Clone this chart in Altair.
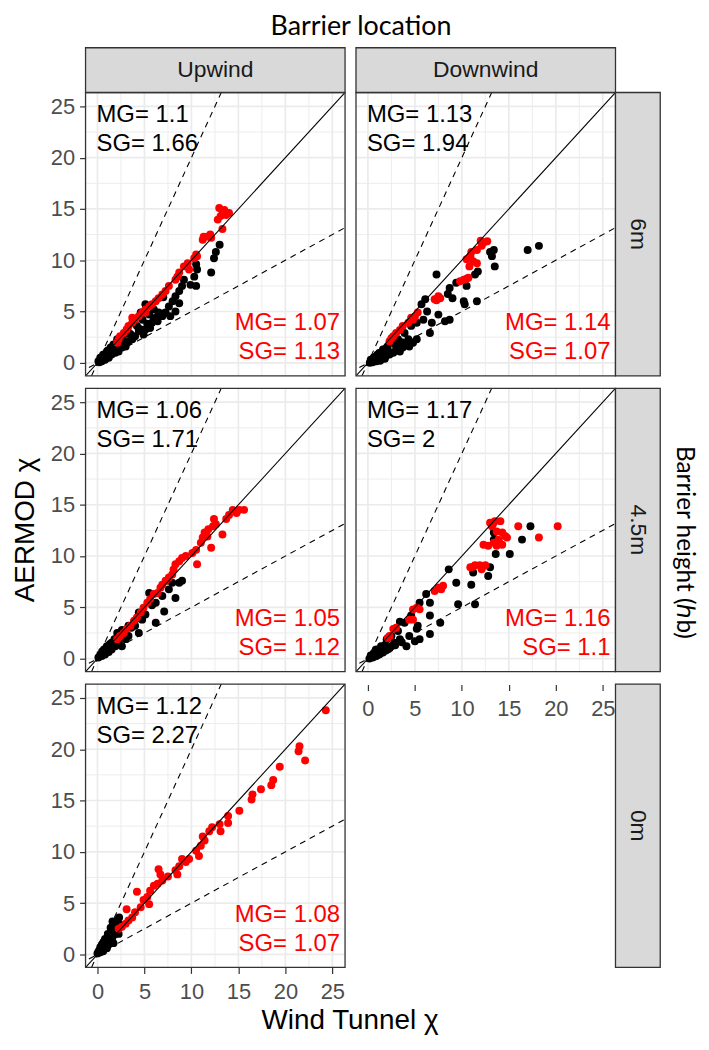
import altair as alt
import pandas as pd

# ------------------------------------------------------------------ data
PANEL_KEYS = ["U6", "D6", "U45", "D45", "U0"]
COL_LABELS = ["Upwind", "Downwind"]
ROW_LABELS = ["6m", "4.5m", "0m"]

U6_BLACK_X = [13.0, 12.6, 12.4, 12.1, 10.5, 10.6, 10.3, 9.9, 10.5, 9.2, 9.0, 8.7, 8.3, 8.7, 8.0, 7.6, 8.3, 7.75, 7.25, 6.9, 6.4, 5.8, 6.5, 6.2, 5.6, 5.1, 4.9, 4.4, 4.0, 3.7, 3.3, 3.0, 2.6, 2.25, 1.9, 1.5, 1.2, 0.8, 0.46, 0.1, 0.3, 0.6, 1.0, 1.4, 1.7, 2.1, 5.1, 4.6, 3.9, 3.2, 2.7, 6.0, 7.0, 4.2, 3.5, 2.4, 0.2, 0.5, 0.9, 1.3, 1.7, 2.0, 2.8, 3.6, 4.5, 5.3, 6.0, 7.0, 4.8, 5.5, 3.0, 2.2, 1.1, 0.7]
U6_BLACK_Y = [11.5, 10.8, 10.2, 8.8, 9.6, 9.1, 8.4, 7.6, 7.5, 8.1, 7.5, 7.0, 6.5, 5.8, 6.0, 5.5, 5.0, 4.55, 4.9, 4.55, 4.06, 3.9, 4.9, 4.4, 3.4, 3.25, 2.76, 3.1, 2.6, 2.3, 2.1, 1.6, 1.5, 1.1, 0.97, 0.8, 0.5, 0.3, 0.16, 0.16, 0.5, 0.8, 1.1, 1.5, 1.8, 2.3, 5.7, 4.9, 3.9, 3.2, 2.6, 5.2, 6.4, 3.6, 2.8, 1.9, 0.05, 0.4, 0.7, 1.0, 1.3, 1.5, 1.9, 2.6, 3.3, 3.8, 4.3, 4.8, 4.2, 4.7, 2.9, 2.0, 1.2, 0.7]
U6_RED_X = [12.96, 13.3, 13.7, 13.1, 12.8, 14.0, 13.3, 11.3, 11.7, 12.1, 11.2, 10.5, 10.3, 10.6, 9.6, 9.75, 8.7, 8.5, 8.3, 7.6, 7.25, 6.9, 6.5, 6.2, 5.8, 5.5, 5.1, 4.75, 4.4, 4.0, 3.7, 3.3, 3.1, 2.8, 2.4, 2.25, 2.1, 3.7, 5.1, 13.5, 12.0, 9.2]
U6_RED_Y = [15.1, 14.8, 14.4, 14.3, 13.96, 14.6, 13.05, 12.3, 12.3, 12.2, 12.0, 10.55, 10.2, 10.4, 9.7, 9.1, 8.8, 8.4, 8.1, 7.5, 7.0, 6.65, 6.3, 6.0, 5.7, 5.5, 5.2, 4.9, 4.55, 4.2, 3.9, 3.6, 3.25, 2.9, 2.6, 2.3, 1.95, 4.4, 4.9, 14.9, 12.5, 9.4]

D6_BLACK_X = [17.0, 18.2, 13.4, 13.2, 13.0, 13.5, 11.4, 11.7, 10.5, 10.2, 10.3, 11.6, 9.4, 8.7, 8.5, 7.3, 6.1, 5.7, 8.7, 8.2, 7.5, 6.8, 6.6, 5.2, 4.8, 4.4, 4.3, 3.7, 3.4, 3.0, 2.7, 2.3, 1.9, 1.6, 1.2, 0.9, 0.5, 0.2, 1.6, 2.1, 1.2, 0.9, 2.7, 3.2, 3.9, 4.6, 5.9, 5.2, 0.3, 0.6, 1.0, 1.4, 9.0, 6.3, 2.0, 2.5, 1.8, 1.3, 0.7, 3.6, 4.0, 2.9]
D6_BLACK_Y = [11.0, 11.4, 11.0, 10.4, 10.8, 9.4, 8.6, 8.9, 7.5, 6.0, 5.7, 6.0, 7.8, 7.3, 6.7, 8.6, 6.2, 5.7, 4.2, 4.06, 4.7, 3.9, 2.9, 2.3, 1.95, 1.6, 2.3, 1.5, 1.1, 1.3, 0.97, 0.8, 0.65, 0.5, 0.3, 0.16, 0.06, 0.0, 1.3, 1.6, 0.97, 0.65, 2.1, 2.3, 2.9, 3.6, 4.2, 3.9, 0.3, 0.5, 0.8, 1.0, 6.3, 5.0, 1.2, 1.0, 0.4, 0.2, 0.4, 2.0, 1.8, 1.8]
D6_RED_X = [12.3, 12.7, 12.1, 11.6, 10.9, 10.5, 11.2, 11.6, 10.7, 10.2, 9.8, 10.5, 7.5, 7.7, 7.1, 5.3, 5.0, 4.6, 4.3, 3.7, 3.4, 3.0, 2.7, 2.3, 2.5, 12.0, 11.0, 10.8, 7.3, 4.8]
D6_RED_Y = [11.7, 11.85, 11.4, 11.0, 10.4, 10.1, 9.9, 9.7, 8.3, 8.1, 7.95, 8.2, 6.5, 6.3, 6.2, 4.9, 4.5, 4.4, 3.9, 3.6, 3.2, 2.9, 2.6, 2.1, 2.4, 11.9, 10.8, 9.4, 6.1, 4.2]

U45_BLACK_X = [9.0, 8.3, 7.1, 6.2, 4.4, 2.6, 6.9, 6.2, 5.5, 5.1, 4.75, 4.0, 3.3, 3.0, 2.25, 1.9, 1.5, 1.2, 0.8, 0.46, 0.1, 1.5, 2.25, 3.3, 4.4, 7.6, 7.96, 8.7, 7.4, 5.8, 4.2, 3.6, 2.8, 0.3, 0.7, 1.0, 1.3, 1.8, 2.1, 0.5, 0.9, 2.6, 3.9]
U45_BLACK_Y = [7.6, 5.9, 4.6, 3.5, 2.5, 1.2, 6.1, 5.45, 6.4, 4.3, 3.8, 3.2, 2.2, 1.9, 1.56, 1.2, 0.9, 0.65, 0.4, 0.26, 0.1, 1.56, 2.2, 3.2, 4.5, 6.75, 7.4, 7.4, 7.6, 5.2, 3.9, 3.0, 2.5, 0.4, 0.9, 1.2, 1.4, 1.9, 2.5, 0.7, 1.0, 2.8, 3.6]
U45_RED_X = [15.1, 15.6, 14.8, 14.4, 13.7, 12.4, 12.6, 12.3, 11.4, 11.7, 11.2, 11.0, 13.3, 12.1, 10.5, 10.1, 9.4, 10.6, 8.7, 8.3, 8.1, 7.96, 7.6, 7.25, 6.9, 6.7, 6.4, 6.0, 5.6, 5.3, 4.9, 4.6, 4.2, 3.9, 3.5, 3.1, 2.8, 2.4, 2.1, 14.0, 11.8, 9.0]
U45_RED_Y = [14.5, 14.5, 14.2, 14.5, 13.6, 13.6, 13.1, 12.9, 12.3, 11.9, 11.8, 11.3, 12.1, 10.8, 10.6, 10.3, 10.0, 9.2, 9.5, 9.2, 8.7, 8.2, 7.9, 7.6, 7.2, 6.9, 6.4, 6.3, 5.8, 5.45, 4.97, 4.5, 4.0, 3.7, 3.2, 2.9, 2.5, 2.2, 1.9, 14.0, 12.6, 9.8]

D45_BLACK_X = [17.3, 16.4, 13.4, 13.4, 13.6, 15.1, 13.0, 12.8, 11.2, 11.0, 9.4, 8.6, 9.6, 11.4, 7.7, 6.6, 6.6, 5.5, 6.2, 5.3, 5.2, 6.6, 5.5, 5.0, 4.4, 4.1, 3.4, 2.8, 2.5, 2.1, 1.6, 1.2, 0.9, 0.5, 0.16, 2.0, 2.5, 3.2, 3.9, 4.6, 1.4, 0.9, 3.4, 0.3, 0.6, 1.1, 1.8, 0.7, 1.3, 2.3, 2.9, 3.6, 1.9]
D45_BLACK_Y = [12.9, 11.6, 12.3, 11.6, 10.2, 10.2, 8.9, 8.05, 8.4, 7.2, 7.4, 8.7, 5.3, 5.3, 3.5, 4.2, 5.45, 5.45, 6.3, 3.2, 2.9, 2.4, 1.9, 1.7, 2.2, 1.2, 1.9, 1.56, 1.2, 0.9, 0.6, 0.4, 0.26, 0.1, 0.0, 1.9, 2.2, 2.7, 3.5, 4.2, 1.2, 0.9, 3.6, 0.3, 0.5, 0.8, 1.3, 0.2, 0.5, 1.0, 1.3, 1.6, 0.8]
D45_RED_X = [13.0, 13.5, 14.1, 13.2, 16.0, 20.2, 18.2, 13.7, 14.3, 14.6, 14.8, 13.9, 13.4, 12.3, 12.8, 13.7, 14.3, 10.9, 11.4, 11.9, 12.5, 12.1, 7.5, 7.8, 7.1, 8.0, 5.2, 5.5, 4.8, 4.4, 4.8, 3.0, 2.7, 2.3, 2.1, 13.3, 14.0, 11.2]
D45_RED_Y = [13.25, 13.4, 13.4, 12.9, 12.9, 12.9, 11.8, 12.4, 12.3, 11.95, 11.8, 11.6, 11.3, 11.1, 11.0, 11.0, 11.1, 8.9, 9.1, 9.1, 9.1, 8.7, 6.9, 6.75, 6.6, 7.1, 4.97, 4.8, 4.8, 3.8, 3.8, 3.0, 2.9, 2.2, 2.0, 13.1, 11.3, 8.95]

U0_BLACK_X = [0.0, 0.1, 0.46, 0.8, 1.2, 1.5, 1.9, 1.9, 1.7, 1.4, 1.0, 0.64, 0.3, 2.1, 0.46, 2.25, 1.6, 1.1, 0.2, 0.9, 1.3, 2.0, 0.5, 0.8, 1.1, 1.4, 1.6, 2.3, 1.0, 0.6, 1.7, 2.4, 0.3]
U0_BLACK_Y = [0.1, 0.26, 0.4, 0.7, 1.06, 1.4, 2.0, 3.0, 2.5, 2.0, 1.5, 1.2, 0.7, 3.3, 0.9, 2.0, 1.7, 0.9, 0.4, 1.3, 1.8, 2.6, 1.0, 1.5, 2.0, 2.6, 3.2, 3.6, 0.6, 0.3, 1.1, 2.9, 0.2]
U0_RED_X = [24.3, 21.5, 21.4, 22.1, 19.4, 18.7, 18.5, 17.4, 16.5, 16.4, 15.1, 13.9, 13.9, 13.0, 13.1, 11.9, 11.2, 11.4, 11.0, 10.5, 10.8, 9.75, 9.4, 8.7, 8.3, 8.5, 6.5, 6.7, 6.9, 6.4, 6.0, 5.6, 5.5, 5.3, 4.9, 4.2, 4.6, 4.0, 3.1, 3.7, 3.3, 3.0, 2.6, 2.25, 7.5, 12.2, 9.0]
U0_RED_Y = [23.8, 20.3, 19.8, 18.9, 18.3, 17.0, 16.5, 16.1, 15.6, 15.1, 14.0, 13.5, 12.8, 12.7, 12.0, 12.0, 11.5, 11.1, 10.6, 10.1, 9.6, 9.3, 9.0, 8.6, 8.2, 7.8, 8.3, 7.8, 7.2, 6.9, 6.7, 6.2, 4.9, 5.6, 5.3, 6.1, 4.6, 4.1, 4.4, 3.6, 3.3, 3.0, 2.7, 2.5, 7.6, 12.4, 9.3]

# MG / SG statistics: black = all points, red = subset
BLACK_MG = ["1.1", "1.13", "1.06", "1.17", "1.12"]
BLACK_SG = ["1.66", "1.94", "1.71", "2", "2.27"]
RED_MG = ["1.07", "1.14", "1.05", "1.16", "1.08"]
RED_SG = ["1.13", "1.07", "1.12", "1.1", "1.07"]

MAJOR_TICKS = [0, 5, 10, 15, 20, 25]
MINOR_TICKS = [2.5, 7.5, 12.5, 17.5, 22.5]
AXIS_DOMAIN = [-1.27, 26.35]
REF_X = [-5, 35]
REF_SLOPES = [1.0, 2.0, 0.5]
REF_KINDS = ["one", "two", "half"]

# ------------------------------------------------------------------ style
W, H, S = 261, 285, 45
FONT = "Liberation Sans"
TFONT = "Lato"
SCALE = alt.Scale(domain=AXIS_DOMAIN, nice=False, zero=False)

ref_rows = []
for slope, kind in zip(REF_SLOPES, REF_KINDS):
    for x0 in REF_X:
        ref_rows.append({"x": x0, "y": slope * x0, "kind": kind})
REF_DF = pd.DataFrame(ref_rows)


def axis_obj(offset=0, pad=8):
    return alt.Axis(values=MAJOR_TICKS, grid=False, domain=False, tickSize=6,
                    tickWidth=1.2, tickColor="#333333", labelFontSize=22,
                    labelColor="#4D4D4D", labelFont=FONT, labelPadding=pad,
                    offset=offset, labelFlush=False, labelOverlap=False)


def one(label=""):
    return pd.DataFrame({"label": [label]})


def strip_top(label):
    return [
        alt.Chart(one()).mark_rect(fill="#D9D9D9", stroke="#333333", strokeWidth=1.3)
        .encode(x=alt.value(0), x2=alt.value(W), y=alt.value(-S), y2=alt.value(0)),
        alt.Chart(one(label)).mark_text(fontSize=23, font=FONT, color="#1A1A1A", baseline="middle")
        .encode(x=alt.value(W / 2), y=alt.value(-S / 2), text="label:N"),
    ]


def strip_right(label):
    return [
        alt.Chart(one()).mark_rect(fill="#D9D9D9", stroke="#333333", strokeWidth=1.3)
        .encode(x=alt.value(W), x2=alt.value(W + S), y=alt.value(0), y2=alt.value(H)),
        alt.Chart(one(label)).mark_text(fontSize=23, font=FONT, color="#1A1A1A", baseline="middle",
                                        angle=90)
        .encode(x=alt.value(W + S / 2), y=alt.value(H / 2), text="label:N"),
    ]


def panel(i, show_x=False, show_y=False, x_offset=0, top=None, right=None, extra=None):
    def X(f):
        if show_x:
            return alt.X(f, type="quantitative", scale=SCALE, title="", axis=axis_obj(x_offset, 8))
        return alt.X(f, type="quantitative", scale=SCALE, axis=None)

    def Y(f):
        if show_y:
            return alt.Y(f, type="quantitative", scale=SCALE, title="", axis=axis_obj(0, 5))
        return alt.Y(f, type="quantitative", scale=SCALE, axis=None)

    key = PANEL_KEYS[i]
    g = globals()
    black = pd.DataFrame({"x": g[key + "_BLACK_X"], "y": g[key + "_BLACK_Y"]})
    red = pd.DataFrame({"x": g[key + "_RED_X"], "y": g[key + "_RED_Y"]})
    minor = pd.DataFrame({"v": MINOR_TICKS})
    major = pd.DataFrame({"v": MAJOR_TICKS})

    layers = [
        alt.Chart(minor).mark_rule(color="#EBEBEB", strokeWidth=0.9).encode(x=X("v")),
        alt.Chart(minor).mark_rule(color="#EBEBEB", strokeWidth=0.9).encode(y=Y("v")),
        alt.Chart(major).mark_rule(color="#EBEBEB", strokeWidth=1.7).encode(x=X("v")),
        alt.Chart(major).mark_rule(color="#EBEBEB", strokeWidth=1.7).encode(y=Y("v")),
        alt.Chart(black).mark_circle(size=64, opacity=1, color="#000000").encode(x=X("x"), y=Y("y")),
        alt.Chart(red).mark_circle(size=64, opacity=1, color="#FF0000").encode(x=X("x"), y=Y("y")),
        alt.Chart(REF_DF[REF_DF.kind == "one"]).mark_line(clip=True, color="#000000", strokeWidth=1.1)
        .encode(x=X("x"), y=Y("y")),
        alt.Chart(REF_DF[REF_DF.kind != "one"]).mark_line(clip=True, color="#000000", strokeWidth=1.1,
                                                          strokeDash=[6, 5])
        .encode(x=X("x"), y=Y("y"), detail="kind:N"),
    ]
    txt = dict(fontSize=24, font=FONT, baseline="middle")
    layers += [
        alt.Chart(one("MG= " + BLACK_MG[i])).mark_text(align="left", color="#000000", **txt)
        .encode(x=alt.value(11), y=alt.value(23), text="label:N"),
        alt.Chart(one("SG= " + BLACK_SG[i])).mark_text(align="left", color="#000000", **txt)
        .encode(x=alt.value(11), y=alt.value(52), text="label:N"),
        alt.Chart(one("MG= " + RED_MG[i])).mark_text(align="right", color="#FF0000", **txt)
        .encode(x=alt.value(256), y=alt.value(232), text="label:N"),
        alt.Chart(one("SG= " + RED_SG[i])).mark_text(align="right", color="#FF0000", **txt)
        .encode(x=alt.value(256), y=alt.value(261), text="label:N"),
        alt.Chart(one()).mark_rect(fillOpacity=0, stroke="#333333", strokeWidth=1.3)
        .encode(x=alt.value(0), x2=alt.value(W), y=alt.value(0), y2=alt.value(H)),
    ]
    if top:
        layers += strip_top(top)
    if right:
        layers += strip_right(right)
    if extra:
        layers += extra
    return alt.layer(*layers).properties(width=W, height=H)


title_top = [alt.Chart(one("Barrier location")).mark_text(fontSize=27, font=TFONT, color="#000000",
                                                           baseline="middle")
             .encode(x=alt.value(277), y=alt.value(-66), text="label:N")]
title_left = [alt.Chart(one("AERMOD χ")).mark_text(fontSize=28, font=FONT, color="#000000",
                                                   baseline="middle", angle=270)
              .encode(x=alt.value(-60), y=alt.value(H / 2), text="label:N")]
title_bottom = [alt.Chart(one("Wind Tunnel χ")).mark_text(fontSize=28, font=FONT, color="#000000",
                                                          baseline="middle")
                .encode(x=alt.value(266), y=alt.value(339), text="label:N")]
title_right = [alt.Chart(one("Barrier height (ℎb)")).mark_text(fontSize=24.5, font=TFONT, color="#000000",
                                                               baseline="middle", angle=90)
               .encode(x=alt.value(330), y=alt.value(155), text="label:N")]

u6 = panel(0, show_y=True, top=COL_LABELS[0], extra=title_top)
d6 = panel(1, top=COL_LABELS[1], right=ROW_LABELS[0])
u45 = panel(2, show_y=True, extra=title_left)
d45 = panel(3, show_x=True, x_offset=13, right=ROW_LABELS[1], extra=title_right)
u0 = panel(4, show_x=True, show_y=True, extra=title_bottom)
blank = alt.layer(*strip_right(ROW_LABELS[2])).properties(width=W, height=H)

chart = alt.concat(u6, d6, u45, d45, u0, blank, columns=2,
                   spacing={"row": 12.5, "column": 11}, bounds="flush").properties(
    padding={"left": 4, "top": 2, "right": 4, "bottom": 2}
).configure_view(strokeOpacity=0)

chart.save("out.html", embed_options={"renderer": "svg", "actions": False})
